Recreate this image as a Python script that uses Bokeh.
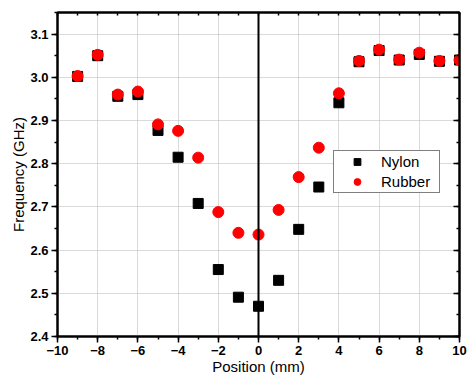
from bokeh.plotting import figure
from bokeh.models import (ColumnDataSource, LinearAxis, SingleIntervalTicker, Span,
                          Legend, LegendItem, Range1d, Grid, NumeralTickFormatter,
                          CustomJSTickFormatter)
from bokeh.embed import file_html
from bokeh.resources import INLINE

positions = [-9, -8, -7, -6, -5, -4, -3, -2, -1, 0, 1, 2, 3, 4, 5, 6, 7, 8, 9, 10]
nylon = [3.002, 3.050, 2.956, 2.960, 2.877, 2.815, 2.708, 2.555, 2.491, 2.470,
         2.530, 2.648, 2.746, 2.941, 3.036, 3.062, 3.040, 3.053, 3.037, 3.040]
rubber = [3.003, 3.052, 2.960, 2.967, 2.891, 2.876, 2.814, 2.688, 2.640, 2.636,
          2.693, 2.769, 2.837, 2.963, 3.038, 3.064, 3.041, 3.057, 3.038, 3.040]
series_names = ["Nylon", "Rubber"]
x_label = "Position (mm)"
y_label = "Frequency (GHz)"

FONT = "Liberation Sans"

p = figure(width=468, height=378, output_backend="svg", toolbar_location=None,
           x_range=Range1d(-10, 10), y_range=Range1d(2.4, 3.15),
           min_border_left=57, min_border_right=9, min_border_top=12, min_border_bottom=42,
           x_axis_type=None, y_axis_type=None)
p.background_fill_color = "white"
p.border_fill_color = "white"
p.outline_line_color = "black"
p.outline_line_width = 2

xt = SingleIntervalTicker(interval=2, num_minor_ticks=2)
yt = SingleIntervalTicker(interval=0.1, num_minor_ticks=2)

xaxis = LinearAxis(ticker=xt, axis_label=x_label)
yaxis = LinearAxis(ticker=yt, axis_label=y_label, formatter=NumeralTickFormatter(format="0.0"))
for ax in (xaxis, yaxis):
    ax.axis_line_width = 2
    ax.major_tick_line_width = 1.5
    ax.minor_tick_line_width = 1.5
    ax.major_tick_out = 6
    ax.major_tick_in = 0
    ax.minor_tick_out = 3
    ax.minor_tick_in = 0
    ax.major_label_text_font = FONT
    ax.major_label_text_font_style = "bold"
    ax.major_label_text_font_size = "13px"
    ax.major_label_text_color = "black"
    ax.axis_label_text_font = FONT
    ax.axis_label_text_font_style = "normal"
    ax.axis_label_text_font_size = "15px"
    ax.axis_label_text_color = "black"
    ax.major_label_standoff = 3
    ax.axis_label_standoff = 1
xaxis.axis_label_standoff = 0
yaxis.axis_label_standoff = 0
p.add_layout(xaxis, "below")
p.add_layout(yaxis, "left")

blank = CustomJSTickFormatter(code="return '';")

top_axis = LinearAxis(ticker=SingleIntervalTicker(interval=1, num_minor_ticks=0), formatter=blank)
top_axis.major_label_standoff = 0
top_axis.major_tick_in = 3
top_axis.major_tick_out = 0
top_axis.minor_tick_in = 0
top_axis.minor_tick_out = 0
top_axis.axis_line_width = 2
top_axis.major_tick_line_width = 1.5
p.add_layout(top_axis, "above")

right_axis = LinearAxis(ticker=SingleIntervalTicker(interval=0.1, num_minor_ticks=2), formatter=blank)
right_axis.major_label_standoff = 0
right_axis.major_tick_in = 6
right_axis.major_tick_out = 0
right_axis.minor_tick_in = 3
right_axis.minor_tick_out = 0
right_axis.axis_line_width = 2
right_axis.major_tick_line_width = 1.5
right_axis.minor_tick_line_width = 1.5
p.add_layout(right_axis, "right")

gx = Grid(dimension=0, ticker=xt, grid_line_color="#b5b5b5", grid_line_dash="1 1", grid_line_width=1)
gy = Grid(dimension=1, ticker=yt, grid_line_color="#b5b5b5", grid_line_dash="1 1", grid_line_width=1)
p.add_layout(gx)
p.add_layout(gy)

p.add_layout(Span(location=0, dimension="height", line_color="black", line_width=2))

src = ColumnDataSource(dict(x=positions, nylon=nylon, rubber=rubber))
r1 = p.scatter("x", "nylon", source=src, marker="square", size=10,
               fill_color="black", line_color="black")
r2 = p.scatter("x", "rubber", source=src, marker="circle", size=11,
               fill_color="#ff0000", line_color="#ff0000")

legend = Legend(items=[LegendItem(label=series_names[0], renderers=[r1]),
                       LegendItem(label=series_names[1], renderers=[r2])],
                location=(276, 143))
legend.label_text_font = FONT
legend.label_text_font_size = "15px"
legend.label_text_color = "black"
legend.padding = 2
legend.spacing = 3
legend.glyph_height = 17
legend.label_height = 17
legend.glyph_width = 42
legend.label_width = 56
legend.label_standoff = 3
legend.border_line_color = "black"
legend.border_line_width = 1.5
legend.background_fill_color = "white"
legend.background_fill_alpha = 1
legend.margin = 0
p.add_layout(legend, "center")

open("out.html", "w").write(file_html(p, INLINE))
